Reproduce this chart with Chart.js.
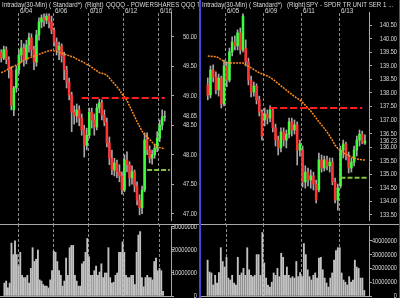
<!DOCTYPE html>
<html>
<head>
<meta charset="utf-8">
<script src="https://cdn.jsdelivr.net/npm/chart.js@4.4.1/dist/chart.umd.min.js"></script>
<style>
  html, body { margin: 0; padding: 0; background: #000; }
  #wrap { position: relative; width: 400px; height: 298px; background: #000; overflow: hidden; }
  canvas { position: absolute; }
  .sep { position: absolute; top: 0; height: 298px; background: #4646d2; }
</style>
</head>
<body>
<div id="wrap">
  <canvas id="leftPrice" width="199" height="224" style="left:0px;top:0px"></canvas>
  <canvas id="leftVolume" width="199" height="74" style="left:0px;top:224px"></canvas>
  <div class="sep" style="left:199px;width:2px"></div>
  <canvas id="rightPrice" width="198" height="224" style="left:201px;top:0px"></canvas>
  <canvas id="rightVolume" width="198" height="74" style="left:201px;top:224px"></canvas>
  <div class="sep" style="left:399px;width:1px"></div>
</div>
<script>
"use strict";

// ---- QQQQ (left panel) ----
const leftTitle = ["Intraday(30-Min) ( Standard*)", "(Right)", "QQQQ - POWERSHARES QQQ TR"];
const leftDays = ["6/03", "6/04", "6/05", "6/06", "6/09", "6/10", "6/11", "6/12", "6/13", "6/16"];
const leftMarked = ["6/04", "6/06", "6/10", "6/12", "6/16"];
const leftPriceTicks = [47.00, 47.50, 48.00, 48.50, 49.00, 49.50, 50.00];
const leftLast = 48.65;
const leftVolumeTicks = [0, 10, 20, 30]; // millions

const leftOpen = [49.74,49.64,49.78,49.61,49.44,48.76,49.13,49.44,49.69,49.81,49.61,49.86,49.98,49.78,49.57,50.03,50.25,50.32,50.28,50.35,50.25,50.11,49.91,49.78,49.84,49.67,49.44,49.23,49.01,48.72,48.66,48.76,48.62,48.42,48.16,48.33,48.72,48.59,48.47,48.79,48.88,48.67,48.55,48.20,47.94,47.74,47.86,47.71,47.64,47.40,47.91,47.83,47.61,47.71,47.47,47.23,47.10,47.40,48.25,48.08,47.94,48.00,48.11,48.28,48.50,48.64];
const leftHigh = [49.78,49.84,49.83,49.66,49.49,49.16,49.50,49.78,49.94,49.88,49.94,50.06,50.05,49.84,50.11,50.32,50.37,50.39,50.39,50.39,50.35,50.15,49.98,49.91,49.88,49.74,49.50,49.30,49.06,48.83,48.86,48.83,48.69,48.50,48.45,48.79,48.79,48.69,48.86,48.94,48.93,48.76,48.62,48.30,48.08,47.94,47.91,47.83,47.71,48.00,48.05,47.88,47.81,47.74,47.54,47.32,47.47,48.37,48.37,48.15,48.08,48.18,48.39,48.59,48.76,48.74];
const leftLow = [49.57,49.61,49.54,49.30,48.76,48.66,49.06,49.37,49.57,49.50,49.54,49.74,49.67,49.44,49.50,49.94,50.15,50.18,50.22,50.15,50.05,49.84,49.69,49.61,49.57,49.27,49.13,48.93,48.39,48.52,48.55,48.49,48.33,47.96,48.08,48.28,48.45,48.33,48.42,48.71,48.59,48.49,48.13,47.83,47.66,47.64,47.61,47.54,47.33,47.37,47.71,47.47,47.50,47.37,47.15,46.98,47.00,47.37,48.00,47.86,47.84,47.94,48.05,48.22,48.42,48.57];
const leftClose = [49.64,49.78,49.61,49.44,48.84,49.13,49.44,49.69,49.81,49.61,49.86,49.98,49.78,49.57,50.03,50.25,50.32,50.28,50.35,50.25,50.11,49.91,49.78,49.84,49.67,49.44,49.23,49.01,48.72,48.66,48.76,48.62,48.42,48.16,48.33,48.72,48.59,48.47,48.79,48.88,48.67,48.55,48.20,47.94,47.74,47.86,47.71,47.64,47.40,47.91,47.83,47.61,47.71,47.47,47.23,47.10,47.40,48.25,48.08,47.94,48.00,48.11,48.28,48.50,48.64,48.65];
const leftAvg = [49.39,49.41,49.43,49.46,49.48,49.50,49.52,49.54,49.57,49.60,49.62,49.64,49.65,49.67,49.68,49.70,49.72,49.73,49.75,49.76,49.77,49.76,49.75,49.74,49.72,49.71,49.69,49.68,49.66,49.65,49.62,49.60,49.58,49.56,49.53,49.51,49.48,49.45,49.42,49.39,49.38,49.37,49.35,49.30,49.25,49.20,49.15,49.10,49.03,48.98,48.92,48.83,48.74,48.65,48.56,48.48,48.40,48.34,48.30,48.26,48.21,48.17,48.13,48.12,48.11,48.10];
const leftResistance = { value: 48.96, from: 32, to: 65 };
const leftSupport = { value: 47.74, from: 58, to: 67 };
const leftVolume = [null,null,5.6,6.5,3.5,5.6,23,18,24,18, 13,19,9,8,8,9,5.6,12,21,15, 16,20,7,6.5,5,4.3,4.3,3.5,7,11, 19.5,19,15,11,9,4.3,6.5,16.5,9,21, 22,22,9,6.5,4.3,4.3,14,15,19,25, 17,9,9,11,13,9,10.4,14,8,10, 10,21,8,5.6,6,9,10,19,19,23.5, 19,9,8,8,9,9,5,19,26.5,28, 8,4,8,9,8,8,7,15,16.5,11, 12,11,2];

// ---- SPY (right panel) ----
const rightTitle = ["Intraday(30-Min) ( Standard*)", "(Right)", "SPY - SPDR TR UNIT SER 1 ..."];
const rightDays = ["6/04", "6/05", "6/06", "6/09", "6/10", "6/11", "6/12", "6/13", "6/16"];
const rightMarked = ["6/05", "6/09", "6/11", "6/13"];
const rightPriceTicks = [133.50,134.00,134.50,135.00,135.50,136.00,136.50,137.00,137.50,138.00,138.50,139.00,139.50,140.00,140.50];
const rightLast = 136.23;
const rightVolumeTicks = [0, 10, 20, 30, 40]; // millions

const rightOpen = [138.29,137.92,138.84,138.58,138.11,138.55,137.59,138.99,138.47,139.51,139.87,139.73,140.21,139.58,139.65,139.14,138.47,138.03,138.25,137.74,137.29,137.00,137.22,137.07,137.37,136.71,136.26,135.97,136.56,136.26,136.48,136.93,136.63,136.82,135.89,135.89,134.72,135.08,134.79,134.94,134.64,134.42,135.53,135.23,135.53,135.31,135.45,134.72,134.05,134.57,135.89,136.12,135.67,135.23,135.45,135.89,136.26,136.48,136.15];
const rightHigh = [138.55,138.99,139.03,138.77,138.69,138.62,139.21,139.14,139.65,140.06,140.10,140.32,140.39,140.91,139.95,139.28,138.62,138.40,138.33,137.88,137.37,137.44,137.37,137.52,137.44,136.85,136.41,136.71,136.71,136.63,137.07,137.07,137.00,136.93,136.26,136.04,135.31,135.23,135.16,135.08,134.79,135.78,135.71,135.67,135.67,135.60,135.60,134.86,134.64,136.04,136.26,136.19,135.82,135.60,136.04,136.41,136.63,136.59,136.45];
const rightLow = [137.74,137.81,138.40,137.96,137.88,137.44,137.52,138.22,138.40,139.36,139.58,139.58,139.43,139.51,138.99,138.29,137.85,137.88,137.59,137.15,136.26,136.78,136.85,136.93,136.56,136.04,135.71,135.82,136.04,135.97,136.34,136.41,136.48,135.34,135.67,134.53,134.49,134.57,134.49,134.42,133.94,134.35,135.08,135.12,135.16,135.08,134.61,133.94,133.68,134.49,135.60,135.53,135.05,135.08,135.31,135.67,136.04,136.12,136.10];
const rightClose = [137.92,138.84,138.58,138.11,138.55,137.59,138.99,138.47,139.51,139.87,139.73,140.21,139.58,140.83,139.14,138.47,138.03,138.25,137.74,137.29,136.41,137.22,137.07,137.37,136.71,136.26,135.97,136.56,136.26,136.48,136.93,136.63,136.82,135.89,136.12,134.72,135.08,134.79,134.94,134.64,134.05,135.53,135.23,135.53,135.31,135.45,134.72,134.05,134.49,135.89,136.12,135.67,135.23,135.45,135.89,136.26,136.48,136.15,136.23];
const rightAvg = [139.36,139.35,139.34,139.33,139.29,139.22,139.16,139.11,139.10,139.10,139.10,139.10,139.10,139.10,139.03,138.98,138.92,138.86,138.80,138.74,138.70,138.66,138.62,138.57,138.50,138.42,138.34,138.26,138.18,138.10,138.02,137.94,137.87,137.80,137.74,137.64,137.54,137.44,137.33,137.20,137.07,136.93,136.82,136.69,136.56,136.41,136.25,136.07,135.95,135.87,135.79,135.73,135.68,135.64,135.60,135.56,135.55,135.53,135.53];
const rightResistance = { value: 137.44, from: 23, to: 57 };
const rightSupport = { value: 134.87, from: 49, to: 59 };
const rightVolume = [null,null,null, 26,17.4,16.7,8,15,9.4,17, 35,25,21,28,13,11.6,15,9.4,8,28, 15,16.7,20,15,35,19,15,14,15,30, 30,15,46,24,13,8,6.5,10,16.7,15, 20,14,31,28,15,21,15,13,14,13, 25,14,17,14,38,30,19,14,11.6,15, 16.7,13,27.5,28,19,13,9.4,6.5,13,16.7, 26,33,35,35,16.7,11.6,10,8,14,10, 11.6,26,21,20,13,13,4];

// ---- look ----
const UP = "#3cff3c";
const DOWN = "#ff3434";
const WICK = "#a8a8a8";
const TEXT = "#dcdcdc";
const AXIS = "#a8a8a8";
const GRID = "#8c8c8c";
const FONT = "'Liberation Sans', Arial, sans-serif";

function narrowText(ctx, text, x, y, size, squeeze, align) {
    ctx.save();
    ctx.font = size + "px " + FONT;
    ctx.fillStyle = TEXT;
    ctx.textBaseline = "middle";
    ctx.textAlign = align || "left";
    ctx.translate(x, y);
    ctx.scale(squeeze, 1);
    ctx.fillText(text, 0, 0);
    ctx.restore();
}

// pixel of the left edge of a day's first slot
function dayEdges(chart, p) {
    const x = chart.scales.x;
    const slot = x.getPixelForValue(1) - x.getPixelForValue(0);
    return p.marked.map(m => {
        const j = p.lead + p.days.indexOf(m) * p.perDay;
        return { label: m, px: Math.round(x.getPixelForValue(j) - slot / 2) + 0.5 };
    });
}

function makeDecor(p) {
    return {
        id: "decor",
        beforeDatasetsDraw(chart) {
            const ctx = chart.ctx;
            ctx.save();
            ctx.strokeStyle = GRID;
            ctx.lineWidth = 1;
            ctx.setLineDash([3, 2]);
            dayEdges(chart, p).forEach(e => {
                ctx.beginPath();
                ctx.moveTo(e.px, p.gridTop);
                ctx.lineTo(e.px, p.gridBottom === undefined ? chart.chartArea.bottom : p.gridBottom);
                ctx.stroke();
            });
            ctx.restore();
        },
        afterDraw(chart) {
            const ctx = chart.ctx;
            const y = chart.scales.y;
            const w = chart.width;
            if (p.kind === "price") {
                p.title.forEach((t, i) => narrowText(ctx, t, p.titleX[i], 4.5, 8, 0.77));
                dayEdges(chart, p).forEach(e => narrowText(ctx, e.label, e.px + 1.5, 11.5, 7, 0.9));
                p.ticks.forEach(v => narrowText(ctx, v.toFixed(2), w - 2, y.getPixelForValue(v), 7.5, 0.75, "right"));
                narrowText(ctx, p.last.toFixed(2), w - 2, y.getPixelForValue(p.last), 7.5, 0.75, "right");
            } else {
                ctx.save();
                ctx.strokeStyle = AXIS;
                ctx.lineWidth = 1;
                ctx.beginPath();
                ctx.moveTo(0, 0.5);
                ctx.lineTo(w, 0.5);
                ctx.moveTo(0, chart.chartArea.bottom + 0.5);
                ctx.lineTo(chart.chartArea.right, chart.chartArea.bottom + 0.5);
                ctx.stroke();
                ctx.restore();
                p.ticks.forEach(v => narrowText(ctx, (v * 1000000).toFixed(0), w - 2, y.getPixelForValue(v), 7.5, 0.75, "right"));
            }
        }
    };
}

function yAxis(min, max, ticks, width) {
    return {
        position: "right",
        min: min,
        max: max,
        afterFit: s => { s.width = width; },
        afterBuildTicks: s => { s.ticks = ticks.map(v => ({ value: v })); },
        grid: { drawOnChartArea: false, drawTicks: true, tickLength: 3, color: AXIS },
        border: { display: true, color: AXIS },
        ticks: { display: false }
    };
}

const common = {
    responsive: false,
    animation: false,
    devicePixelRatio: 1,
    events: [],
    plugins: { legend: { display: false }, tooltip: { enabled: false } }
};

function priceChart(id, p) {
    const idx = Array.from({ length: p.slots }, (_, j) => j - p.lead);
    const has = k => k >= 0 && k < p.open.length;
    const level = lv => idx.map(k => (k >= lv.from && k <= lv.to ? lv.value : null));

    new Chart(document.getElementById(id), {
        type: "bar",
        data: {
            labels: idx,
            datasets: [
                { type: "line", data: level(p.resistance), borderColor: "#ff1e1e", borderWidth: 2,
                  borderDash: [7, 3], pointRadius: 0, order: 0 },
                { type: "line", data: level(p.support), borderColor: "#86c23c", borderWidth: 2,
                  borderDash: [5, 2], pointRadius: 0, order: 0 },
                { type: "line", data: idx.map(k => (has(k) ? p.avg[k] : null)), borderColor: "#ff8a1c",
                  borderWidth: 1.5, borderDash: [2, 1], pointRadius: 0, order: 1 },
                { data: idx.map(k => (has(k) ? [p.open[k], p.close[k]] : null)),
                  backgroundColor: idx.map(k => (has(k) && p.close[k] < p.open[k] ? DOWN : UP)),
                  barThickness: 1.9, grouped: false, order: 2 },
                { data: idx.map(k => (has(k) ? [p.low[k], p.high[k]] : null)),
                  backgroundColor: WICK, barThickness: 1, grouped: false, order: 3 }
            ]
        },
        options: {
            ...common,
            layout: { padding: { top: 12, bottom: 4, left: 0, right: 0 } },
            scales: {
                x: { type: "category", display: false, offset: true },
                y: yAxis(p.min, p.max, p.ticks, p.axisWidth)
            }
        },
        plugins: [makeDecor({ ...p, kind: "price", gridTop: 13, gridBottom: 224 })]
    });
}

function volumeChart(id, p) {
    const idx = Array.from({ length: p.slots }, (_, j) => j);
    new Chart(document.getElementById(id), {
        type: "bar",
        data: {
            labels: idx,
            datasets: [{ data: idx.map(j => (j < p.volume.length ? p.volume[j] : null)),
                         backgroundColor: "#c2c2c2", barThickness: 1.2 }]
        },
        options: {
            ...common,
            layout: { padding: { top: 2, bottom: 2, left: 0, right: 0 } },
            scales: {
                x: { type: "category", display: false, offset: true },
                y: yAxis(0, p.max, p.ticks, p.axisWidth)
            }
        },
        plugins: [makeDecor({ ...p, kind: "volume", gridTop: 0 })]
    });
}

priceChart("leftPrice", {
    title: leftTitle, titleX: [2, 85, 106], days: leftDays, marked: leftMarked,
    perDay: 7, lead: 0, slots: 68, axisWidth: 28,
    open: leftOpen, high: leftHigh, low: leftLow, close: leftClose, avg: leftAvg,
    resistance: leftResistance, support: leftSupport,
    min: 46.893, max: 50.419, ticks: leftPriceTicks, last: leftLast
});
volumeChart("leftVolume", {
    days: leftDays, marked: leftMarked, perDay: 10, lead: 0, slots: 97, axisWidth: 28,
    volume: leftVolume, max: 30.43, ticks: leftVolumeTicks
});
priceChart("rightPrice", {
    title: rightTitle, titleX: [1, 86, 105], days: rightDays, marked: rightMarked,
    perDay: 7, lead: 2, slots: 62, axisWidth: 30,
    open: rightOpen, high: rightHigh, low: rightLow, close: rightClose, avg: rightAvg,
    resistance: rightResistance, support: rightSupport,
    min: 133.315, max: 140.979, ticks: rightPriceTicks, last: rightLast
});
volumeChart("rightVolume", {
    days: rightDays, marked: rightMarked, perDay: 10, lead: 3, slots: 89, axisWidth: 30,
    volume: rightVolume, max: 50.72, ticks: rightVolumeTicks
});
</script>
</body>
</html>
